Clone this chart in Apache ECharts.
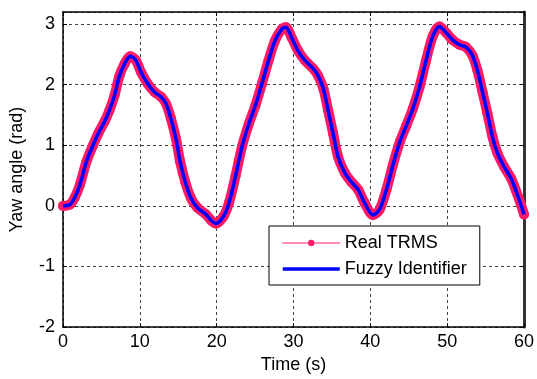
<!DOCTYPE html>
<html>
<head>
<meta charset="utf-8">
<script src="https://cdn.jsdelivr.net/npm/echarts@6/dist/echarts.min.js"></script>
<style>
  html, body { margin: 0; padding: 0; background: #fff; }
  #chart { width: 537px; height: 379px; }
</style>
</head>
<body>
<div id="chart"></div>
<script>
// time samples (s)
var timeS = [0, 0.87, 1.5, 2.2, 3.05, 3.9, 4.6, 5.4, 6.05, 6.7, 7.35, 8.0, 8.77, 9.5, 10.15, 11.0, 11.9, 12.75,
  13.4, 14.05, 14.7, 15.25, 15.9, 16.65, 17.5, 18.6, 19.3, 19.9, 20.9, 21.6, 22.45, 23.3, 24.2, 25.05, 25.9,
  26.75, 27.6, 28.5, 29.0, 29.75, 30.6, 31.5, 32.6, 33.2, 33.9, 34.5, 35.15, 35.8, 36.7, 37.5, 38.4, 39.25,
  40.35, 41.2, 42.1, 42.95, 43.85, 44.7, 45.55, 46.4, 47.25, 48.15, 49.0, 49.85, 50.7, 51.6, 52.45, 53.3,
  53.95, 54.6, 55.25, 55.9, 56.55, 57.4, 58.3, 58.9, 59.6, 60];
// yaw angle (rad), real system
var realTrms = [0, 0.02, 0.13, 0.35, 0.73, 1.0, 1.2, 1.39, 1.58, 1.82, 2.15, 2.34, 2.47, 2.40, 2.21, 2.02, 1.88, 1.80,
  1.69, 1.44, 1.11, 0.73, 0.40, 0.13, -0.03, -0.14, -0.24, -0.29, -0.17, 0.05, 0.49, 0.98, 1.36, 1.66, 2.02,
  2.40, 2.73, 2.92, 2.95, 2.78, 2.56, 2.40, 2.26, 2.15, 1.93, 1.58, 1.20, 0.81, 0.54, 0.40, 0.27, 0.05,
  -0.15, -0.06, 0.27, 0.68, 1.06, 1.33, 1.61, 1.96, 2.40, 2.81, 2.96, 2.86, 2.74, 2.66, 2.62, 2.48,
  2.23, 1.88, 1.52, 1.14, 0.87, 0.65, 0.46, 0.27, 0.02, -0.14];
// yaw angle (rad), fuzzy model output (overlaps the real one)
var fuzzyIdentifier = [0, 0.02, 0.13, 0.35, 0.73, 1.0, 1.2, 1.39, 1.58, 1.82, 2.15, 2.34, 2.47, 2.40, 2.21, 2.02, 1.88, 1.80,
  1.69, 1.44, 1.11, 0.73, 0.40, 0.13, -0.03, -0.14, -0.24, -0.29, -0.17, 0.05, 0.49, 0.98, 1.36, 1.66, 2.02,
  2.40, 2.73, 2.92, 2.95, 2.78, 2.56, 2.40, 2.26, 2.15, 1.93, 1.58, 1.20, 0.81, 0.54, 0.40, 0.27, 0.05,
  -0.15, -0.06, 0.27, 0.68, 1.06, 1.33, 1.61, 1.96, 2.40, 2.81, 2.96, 2.86, 2.74, 2.66, 2.62, 2.48,
  2.23, 1.88, 1.52, 1.14, 0.87, 0.65, 0.46, 0.27, 0.02, -0.14];

var pairs = function (ys) {
  return timeS.map(function (t, i) { return [t, ys[i]]; });
};

var font = 'Liberation Sans, Arial, sans-serif';
var gridLine = { show: true, lineStyle: { color: '#444', type: [3, 3], width: 1 } };

var myChart = echarts.init(document.getElementById('chart'), null, { renderer: 'canvas' });

var option = {
  animation: false,
  backgroundColor: '#fff',
  grid: { left: 63, right: 10, top: 12, bottom: 49 },
  xAxis: [
    {
      type: 'value', min: 0, max: 60, interval: 10,
      name: 'Time (s)', nameLocation: 'middle', nameGap: 27,
      nameTextStyle: { color: '#000', fontSize: 18, fontFamily: font },
      axisLine: { show: true, onZero: false, lineStyle: { color: '#000', width: 1.5 } },
      axisTick: { show: true, inside: true, length: 4, lineStyle: { color: '#000' } },
      axisLabel: { color: '#000', fontSize: 18, fontFamily: font, margin: 6 },
      splitLine: gridLine
    },
    {
      type: 'value', min: 0, max: 60, interval: 10, position: 'top',
      axisLine: { show: true, onZero: false, lineStyle: { color: '#000', width: 1.5 } },
      axisTick: { show: true, inside: true, length: 4, lineStyle: { color: '#000' } },
      axisLabel: { show: false },
      splitLine: { show: false }
    }
  ],
  yAxis: [
    {
      type: 'value', min: -2, max: 3.2, interval: 1,
      name: 'Yaw angle (rad)', nameLocation: 'middle', nameGap: 37,
      nameTextStyle: { color: '#000', fontSize: 18, fontFamily: font },
      axisLine: { show: true, onZero: false, lineStyle: { color: '#000', width: 1.5 } },
      axisTick: { show: true, inside: true, length: 4, lineStyle: { color: '#000' } },
      axisLabel: { color: '#000', fontSize: 18, fontFamily: font, margin: 8, showMaxLabel: false },
      splitLine: gridLine
    },
    {
      type: 'value', min: -2, max: 3.2, interval: 1, position: 'right',
      axisLine: { show: true, onZero: false, lineStyle: { color: '#333', width: 3 } },
      axisTick: { show: true, inside: true, length: 4, lineStyle: { color: '#000' } },
      axisLabel: { show: false },
      splitLine: { show: false }
    }
  ],
  legend: {
    orient: 'vertical',
    left: 269, top: 226,
    padding: [8, 13, 7, 12],
    itemWidth: 57, itemHeight: 8, itemGap: 8,
    backgroundColor: '#fff',
    borderColor: '#000', borderWidth: 1, borderRadius: 0,
    textStyle: { color: '#000', fontSize: 18, fontFamily: font },
    data: [
      { name: 'Real TRMS', lineStyle: { width: 1.5, color: '#ff6b9e' }, itemStyle: { color: '#ff1a66' } },
      { name: 'Fuzzy Identifier', lineStyle: { width: 3.5, color: '#0000ff' }, itemStyle: { opacity: 0 } }
    ]
  },
  series: [
    {
      name: 'Real TRMS',
      type: 'line',
      data: pairs(realTrms),
      smooth: 0.3,
      symbol: 'circle', symbolSize: 10, showSymbol: true, showAllSymbol: true,
      itemStyle: { color: '#ff1a66' },
      lineStyle: { color: '#ff1a66', width: 10, cap: 'round', join: 'round' },
      z: 2
    },
    {
      name: 'Fuzzy Identifier',
      type: 'line',
      data: pairs(fuzzyIdentifier),
      smooth: 0.3,
      symbol: 'none',
      itemStyle: { color: '#0000ff' },
      lineStyle: { color: '#0000ff', width: 3.5, join: 'round' },
      z: 3
    }
  ]
};
option && myChart.setOption(option);
</script>
</body>
</html>
